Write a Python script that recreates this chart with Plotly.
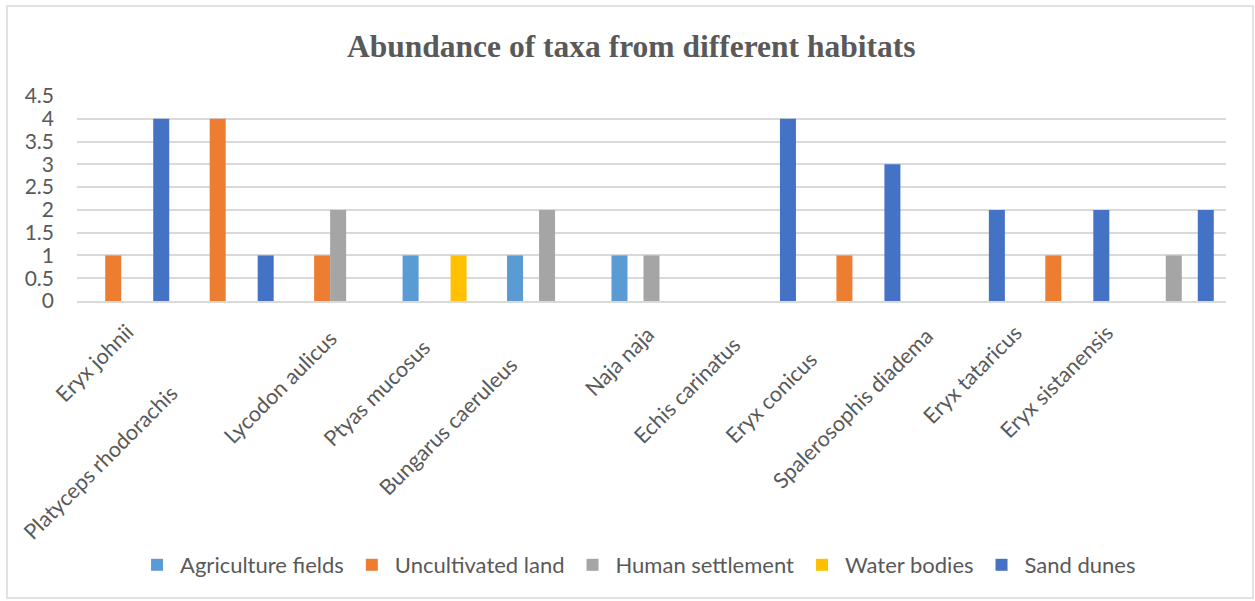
import plotly.graph_objects as go

categories = ["Eryx johnii", "Platyceps rhodorachis", "Lycodon aulicus", "Ptyas mucosus",
              "Bungarus caeruleus", "Naja naja", "Echis carinatus", "Eryx conicus",
              "Spalerosophis diadema", "Eryx tataricus", "Eryx sistanensis"]
agriculture_fields = [0, 0, 0, 1, 1, 1, 0, 0, 0, 0, 0]
uncultivated_land = [1, 4, 1, 0, 0, 0, 0, 1, 0, 1, 0]
human_settlement = [0, 0, 2, 0, 2, 1, 0, 0, 0, 0, 1]
water_bodies = [0, 0, 0, 1, 0, 0, 0, 0, 0, 0, 0]
sand_dunes = [4, 1, 0, 0, 0, 0, 4, 3, 2, 2, 2]
y_ticks = [0, 0.5, 1, 1.5, 2, 2.5, 3, 3.5, 4, 4.5]

series = [
    ("Agriculture fields", agriculture_fields, "#5B9BD5"),
    ("Uncultivated land", uncultivated_land, "#ED7D31"),
    ("Human settlement", human_settlement, "#A5A5A5"),
    ("Water bodies", water_bodies, "#FFC000"),
    ("Sand dunes", sand_dunes, "#4472C4"),
]

# staggered label placement (pixel offsets of label centre from category centre / axis)
label_dx = [-35, -133, -58, -66, -99, -32, -69, -89, -112, -97, -117]
label_dy = [62, 161, 86, 92, 125, 60, 89, 96, 107, 73, 80]

TXT = "#595959"
FONT = "Lato, 'Open Sans', sans-serif"

fig = go.Figure()
for name, vals, col in series:
    fig.add_trace(go.Bar(x=categories, y=vals, name=name, marker=dict(color=col, line=dict(width=0))))

annotations = []
for cat, dx, dy in zip(categories, label_dx, label_dy):
    annotations.append(dict(x=cat, xref="x", y=0, yref="paper", xshift=dx, yshift=-dy,
                            xanchor="center", yanchor="middle",
                            text=cat, textangle=-45, showarrow=False,
                            font=dict(family=FONT, size=21.5, color=TXT)))

L, R, T, B = 77, 29, 96, 300
pw, ph = 1255 - L - R, 601 - T - B

def px(xp):
    return (xp - L) / pw

def py(yp):
    return (601 - B - yp) / ph

fig.update_layout(
    width=1255, height=601,
    margin=dict(l=L, r=R, t=T, b=B, autoexpand=False),
    paper_bgcolor="white", plot_bgcolor="white",
    barmode="group", bargap=0.234, bargroupgap=0,
    title=dict(text="<b>Abundance of taxa from different habitats</b>", x=0.503, xref="container",
               y=1 - 46 / 601, yref="container", xanchor="center", yanchor="middle",
               font=dict(family="'Liberation Serif', 'Times New Roman', serif", size=31.5, color=TXT)),
    xaxis=dict(range=[-0.5, len(categories) - 0.5], showticklabels=False, showgrid=False,
               zeroline=False, showline=True, linecolor="#D9D9D9", linewidth=1.5, ticks=""),
    yaxis=dict(range=[0, 4.5], tickvals=y_ticks, showgrid=True, gridcolor="#D9D9D9", gridwidth=1.5,
               zeroline=False, showline=False, ticks="", ticklabelstandoff=22,
               tickfont=dict(family=FONT, size=21, color=TXT)),
    legend=dict(orientation="h", xref="container", yref="container", x=0.508, xanchor="center",
                y=1 - 565 / 601, yanchor="middle", font=dict(family=FONT, size=22, color=TXT),
                itemwidth=36, tracegroupgap=0),
    annotations=annotations,
    shapes=[dict(type="rect", xref="paper", yref="paper", x0=px(7), x1=px(1253), y0=py(598), y1=py(6),
                 line=dict(color="#D9D9D9", width=1.5), fillcolor="rgba(0,0,0,0)", layer="below")],
    showlegend=True,
)

fig.write_html("out.html")
